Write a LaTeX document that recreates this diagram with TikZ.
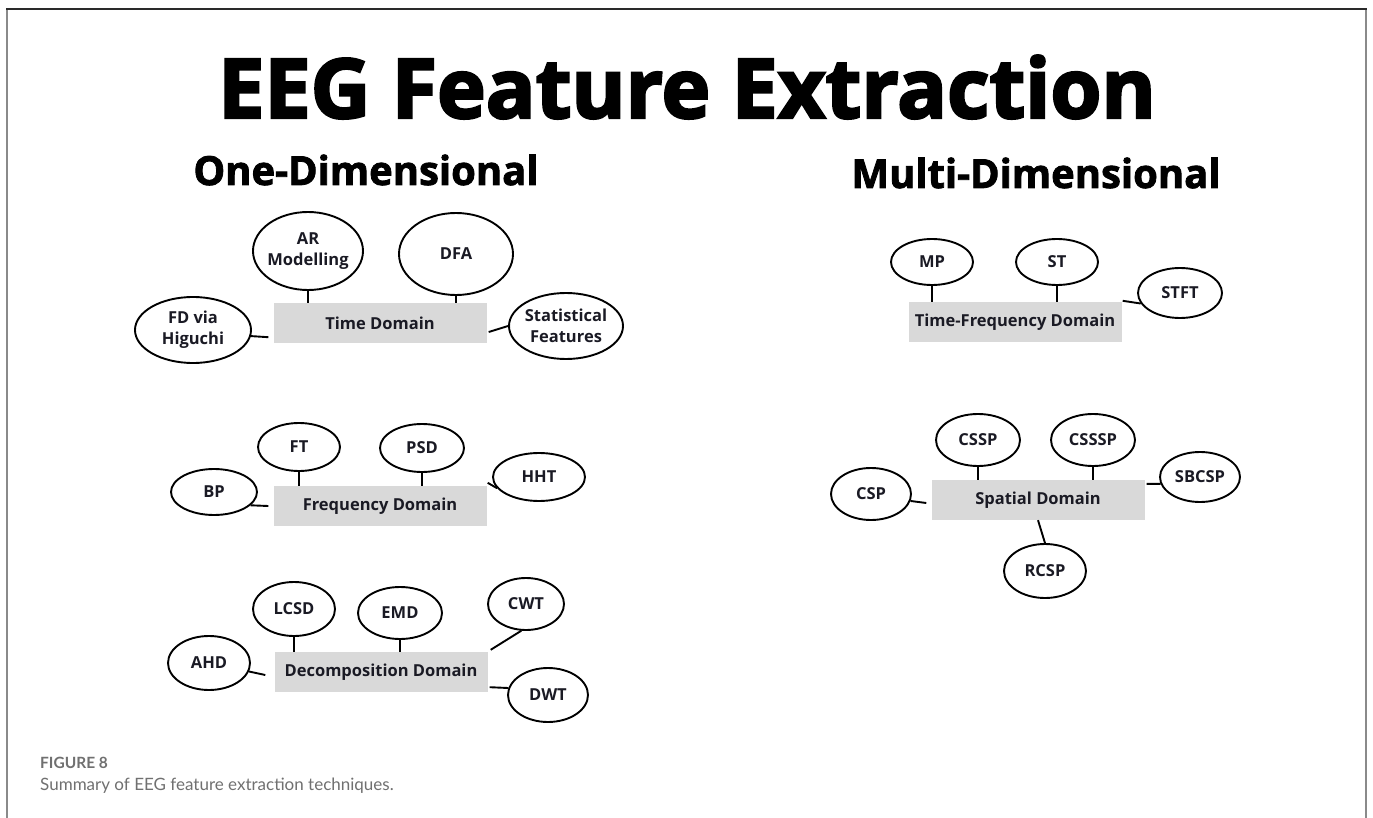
\documentclass[tikz,border=0pt]{standalone}
\usepackage{fontspec}
\setmainfont{Open Sans}
\newfontfamily\titlefont[BoldFeatures={FakeBold=3}]{Open Sans}
\newfontfamily\headfont[BoldFeatures={FakeBold=2}]{Open Sans}
\newfontfamily\capfont{Lato}
\usetikzlibrary{shapes.geometric}
\definecolor{boxgray}{HTML}{D9D9D9}
\definecolor{ink}{HTML}{1A1A24}
\definecolor{capgray}{HTML}{707070}
\definecolor{framegray}{HTML}{8A8A8A}
\definecolor{frametop}{HTML}{2A2A2A}

\begin{document}
\begin{tikzpicture}[x=1pt,y=-1pt,
  oval/.style 2 args={ellipse, draw=black, line width=1.9pt, fill=white,
    inner sep=0pt, minimum width=2*#1, minimum height=2*#2},
  ovaltext/.style={align=center, inner sep=0pt, text=ink,
    font=\bfseries\fontsize{16.5}{21}\selectfont},
  domainbox/.style={rectangle, fill=boxgray, inner sep=0pt,
    minimum width=213pt, minimum height=40pt, text=ink,
    font=\bfseries\fontsize{16.5}{20}\selectfont},
  link/.style={line width=1.9pt, black},
  heading/.style={anchor=base, font=\headfont\bfseries\fontsize{40}{46}\selectfont}]

\useasboundingbox (0,0) rectangle (1373,818);
\fill[white] (0,0) rectangle (1373,818);

% frame
\draw[framegray, line width=2pt] (7,818) -- (7,9);
\draw[framegray, line width=2pt] (1366,9) -- (1366,818);
\draw[frametop, line width=1.5pt] (6,9) -- (1367,9);

% titles
\node[anchor=base, font=\titlefont\bfseries\fontsize{82.5}{92}\selectfont] (title) at (687,118) {EEG Feature Extraction};
\node[heading] (onedim) at (366,185) {One-Dimensional};
\node[heading] (multidim) at (1036,188) {Multi-Dimensional};

% ---------- Time Domain ----------
\node[domainbox] (td) at (380,323) {Time Domain};
\node[oval={55}{39}, label={[ovaltext]center:{AR\\Modelling}}] (ar) at (308,251) {};
\node[oval={57}{41}, label={[ovaltext]center:DFA}] (dfa) at (456,254) {};
\node[oval={58}{33}, label={[ovaltext]center:{FD via\\Higuchi}}] (fdh) at (193,330) {};
\node[oval={57}{33}, label={[ovaltext]center:{Statistical\\Features}}] (stat) at (566,326) {};
\draw[link] (ar.south) -- (ar.south |- td.north);
\draw[link] (dfa.south) -- (dfa.south |- td.north);
\draw[link] (fdh.-6) -- ([shift={(-5,-6)}]td.south west);
\draw[link] (stat.west) -- ([shift={(2,9)}]td.east);

% ---------- Frequency Domain ----------
\node[domainbox] (fq) at (380,506) {Frequency Domain};
\node[oval={41}{24}, label={[ovaltext]center:FT}] (ft) at (299,447) {};
\node[oval={42}{24}, label={[ovaltext]center:PSD}] (psd) at (422,448) {};
\node[oval={46}{24}, label={[ovaltext]center:HHT}] (hht) at (539,477) {};
\node[oval={43}{23}, label={[ovaltext]center:BP}] (bp) at (214,492) {};
\draw[link] (ft.south) -- (ft.south |- fq.north);
\draw[link] (psd.south) -- (psd.south |- fq.north);
\draw[link] (hht.195) -- ([shift={(1,-3)}]fq.north east);
\draw[link] (bp.-20) -- ([shift={(-5,0)}]fq.west);

% ---------- Decomposition Domain ----------
\node[domainbox] (dd) at (381,672) {Decomposition Domain};
\node[oval={41}{27}, label={[ovaltext]center:LCSD}] (lcsd) at (294,609) {};
\node[oval={42}{26}, label={[ovaltext]center:EMD}] (emd) at (400,613) {};
\node[oval={38}{26}, label={[ovaltext]center:CWT}] (cwt) at (526,604) {};
\node[oval={41}{27}, label={[ovaltext]center:AHD}] (ahd) at (209,663) {};
\node[oval={40}{27}, label={[ovaltext]center:DWT}] (dwt) at (548,695) {};
\draw[link] (lcsd.south) -- (lcsd.south |- dd.north);
\draw[link] (emd.south) -- (emd.south |- dd.north);
\draw[link] (cwt.-100) -- ([shift={(3,-2)}]dd.north east);
\draw[link] (ahd.-12) -- ([shift={(-9,3)}]dd.west);
\draw[link] ([shift={(2,-5)}]dd.south east) -- (dwt.170);

% ---------- Time-Frequency Domain ----------
\node[domainbox] (tf) at (1015,322) {Time-Frequency Domain};
\node[oval={41}{23}, label={[ovaltext]center:MP}] (mp) at (932,262) {};
\node[oval={41}{23}, label={[ovaltext]center:ST}] (st) at (1057,262) {};
\node[oval={42}{25}, label={[ovaltext]center:STFT}] (stft) at (1180,293) {};
\draw[link] (mp.south) -- (mp.south |- tf.north);
\draw[link] (st.south) -- (st.south |- tf.north);
\draw[link] (stft.195) -- ([shift={(1,-1)}]tf.north east);

% ---------- Spatial Domain ----------
\node[domainbox] (sp) at (1038,500) {Spatial Domain};
\node[oval={42}{26}, label={[ovaltext]center:CSSP}] (cssp) at (978,440) {};
\node[oval={42}{26}, label={[ovaltext]center:CSSSP}] (csssp) at (1093,440) {};
\node[oval={40}{25}, label={[ovaltext]center:SBCSP}] (sbcsp) at (1200,477) {};
\node[oval={40}{26}, label={[ovaltext]center:CSP}] (csp) at (871,494) {};
\node[oval={41}{27}, label={[ovaltext]center:RCSP}] (rcsp) at (1045,571) {};
\draw[link] (cssp.south) -- (cssp.south |- sp.north);
\draw[link] (csssp.south) -- (csssp.south |- sp.north);
\draw[link] (sbcsp.190) -- ([shift={(2,4)}]sp.north east);
\draw[link] (csp.-10) -- ([shift={(-5,3)}]sp.west);
\draw[link] (sp.south) -- (rcsp.north);

% caption
\node[anchor=base west, inner sep=0pt, text=capgray, font=\capfont\bfseries\fontsize{15.5}{18}\selectfont] (fignum) at (40,768) {FIGURE 8};
\node[anchor=base west, inner sep=0pt, text=capgray, font=\capfont\fontsize{17}{20}\selectfont] (figcap) at (40,790) {Summary of EEG feature extraction techniques.};
\end{tikzpicture}
\end{document}
